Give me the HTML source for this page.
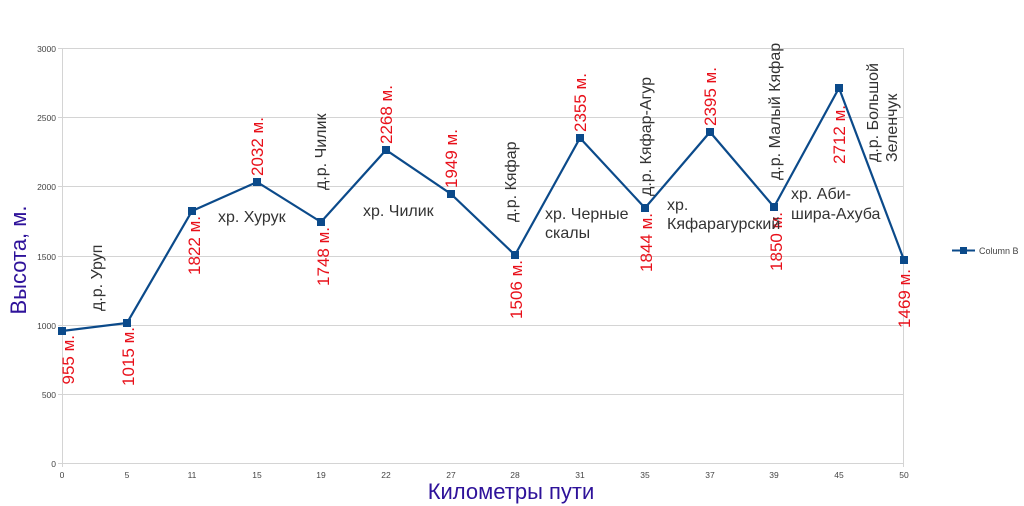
<!DOCTYPE html>
<html><head><meta charset="utf-8"><style>body{margin:0;background:#fff}svg{display:block}</style></head><body>
<svg width="1024" height="506" xmlns="http://www.w3.org/2000/svg" font-family="Liberation Sans, DejaVu Sans, sans-serif">
<g stroke="#d4d4d4" stroke-width="1">
<line x1="58" y1="48.5" x2="903" y2="48.5"/><line x1="58" y1="117.5" x2="903" y2="117.5"/><line x1="58" y1="186.5" x2="903" y2="186.5"/><line x1="58" y1="256.5" x2="903" y2="256.5"/><line x1="58" y1="325.5" x2="903" y2="325.5"/><line x1="58" y1="394.5" x2="903" y2="394.5"/><line x1="58" y1="463.5" x2="903" y2="463.5"/>
<line x1="62.5" y1="48" x2="62.5" y2="467"/><line x1="903.5" y1="48" x2="903.5" y2="467"/>
</g>
<g font-size="8.5" fill="#444" text-anchor="end">
<text x="56" y="52">3000</text><text x="56" y="121">2500</text><text x="56" y="190">2000</text><text x="56" y="260">1500</text><text x="56" y="329">1000</text><text x="56" y="398">500</text><text x="56" y="467">0</text>
</g>
<g font-size="8.5" fill="#444" text-anchor="middle">
<text x="62" y="478">0</text><text x="127" y="478">5</text><text x="192" y="478">11</text><text x="257" y="478">15</text><text x="321" y="478">19</text><text x="386" y="478">22</text><text x="451" y="478">27</text><text x="515" y="478">28</text><text x="580" y="478">31</text><text x="645" y="478">35</text><text x="710" y="478">37</text><text x="774" y="478">39</text><text x="839" y="478">45</text><text x="904" y="478">50</text>
</g>
<polyline fill="none" stroke="#0b4a8a" stroke-width="2.2" points="62,331 127,323 192,211 257,182 321,222 386,150 451,194 515,255 580,138 645,208 710,132 774,207 839,88 904,260"/>
<g fill="#0b4a8a">
<rect x="58" y="327" width="8" height="8"/><rect x="123" y="319" width="8" height="8"/><rect x="188" y="207" width="8" height="8"/><rect x="253" y="178" width="8" height="8"/><rect x="317" y="218" width="8" height="8"/><rect x="382" y="146" width="8" height="8"/><rect x="447" y="190" width="8" height="8"/><rect x="511" y="251" width="8" height="8"/><rect x="576" y="134" width="8" height="8"/><rect x="641" y="204" width="8" height="8"/><rect x="706" y="128" width="8" height="8"/><rect x="770" y="203" width="8" height="8"/><rect x="835" y="84" width="8" height="8"/><rect x="900" y="256" width="8" height="8"/>
</g>
<g font-size="17" fill="#e8101a">
<text transform="translate(74,335) rotate(-90)" text-anchor="end">955 м.</text>
<text transform="translate(134,327) rotate(-90)" text-anchor="end">1015 м.</text>
<text transform="translate(200,216) rotate(-90)" text-anchor="end">1822 м.</text>
<text transform="translate(263,176) rotate(-90)">2032 м.</text>
<text transform="translate(329,227) rotate(-90)" text-anchor="end">1748 м.</text>
<text transform="translate(392,144) rotate(-90)">2268 м.</text>
<text transform="translate(457,188) rotate(-90)">1949 м.</text>
<text transform="translate(522,260) rotate(-90)" text-anchor="end">1506 м.</text>
<text transform="translate(586,132) rotate(-90)">2355 м.</text>
<text transform="translate(652,213) rotate(-90)" text-anchor="end">1844 м.</text>
<text transform="translate(716,126) rotate(-90)">2395 м.</text>
<text transform="translate(782,212) rotate(-90)" text-anchor="end">1850 м.</text>
<text transform="translate(845,105) rotate(-90)" text-anchor="end">2712 м.</text>
<text transform="translate(910,269) rotate(-90)" text-anchor="end">1469 м.</text>
</g>
<g font-size="16" fill="#333">
<text transform="translate(102,311) rotate(-90)">д.р. Уруп</text>
<text x="218" y="222">хр. Хурук</text>
<text transform="translate(326,190) rotate(-90)">д.р. Чилик</text>
<text x="363" y="216">хр. Чилик</text>
<text transform="translate(516,222) rotate(-90)">д.р. Кяфар</text>
<text x="545" y="219">хр. Черные</text><text x="545" y="238">скалы</text>
<text transform="translate(651,196) rotate(-90)">д.р. Кяфар-Агур</text>
<text x="667" y="210">хр.</text><text x="667" y="229">Кяфарагурский</text>
<text transform="translate(780,180) rotate(-90)">д.р. Малый Кяфар</text>
<text x="791" y="199">хр. Аби-</text><text x="791" y="219">шира-Ахуба</text>
<text transform="translate(878,162) rotate(-90)">д.р. Большой</text>
<text transform="translate(897,162) rotate(-90)">Зеленчук</text>
</g>
<text transform="translate(26,260) rotate(-90)" text-anchor="middle" font-size="22" fill="#2e129a">Высота, м.</text>
<text x="511" y="499" text-anchor="middle" font-size="22" fill="#2e129a">Километры пути</text>
<line x1="952" y1="250.5" x2="975" y2="250.5" stroke="#0b4a8a" stroke-width="2"/>
<rect x="960" y="247" width="7" height="7" fill="#0b4a8a"/>
<text x="979" y="254" font-size="9" fill="#444">Column B</text>
</svg>
</body></html>
